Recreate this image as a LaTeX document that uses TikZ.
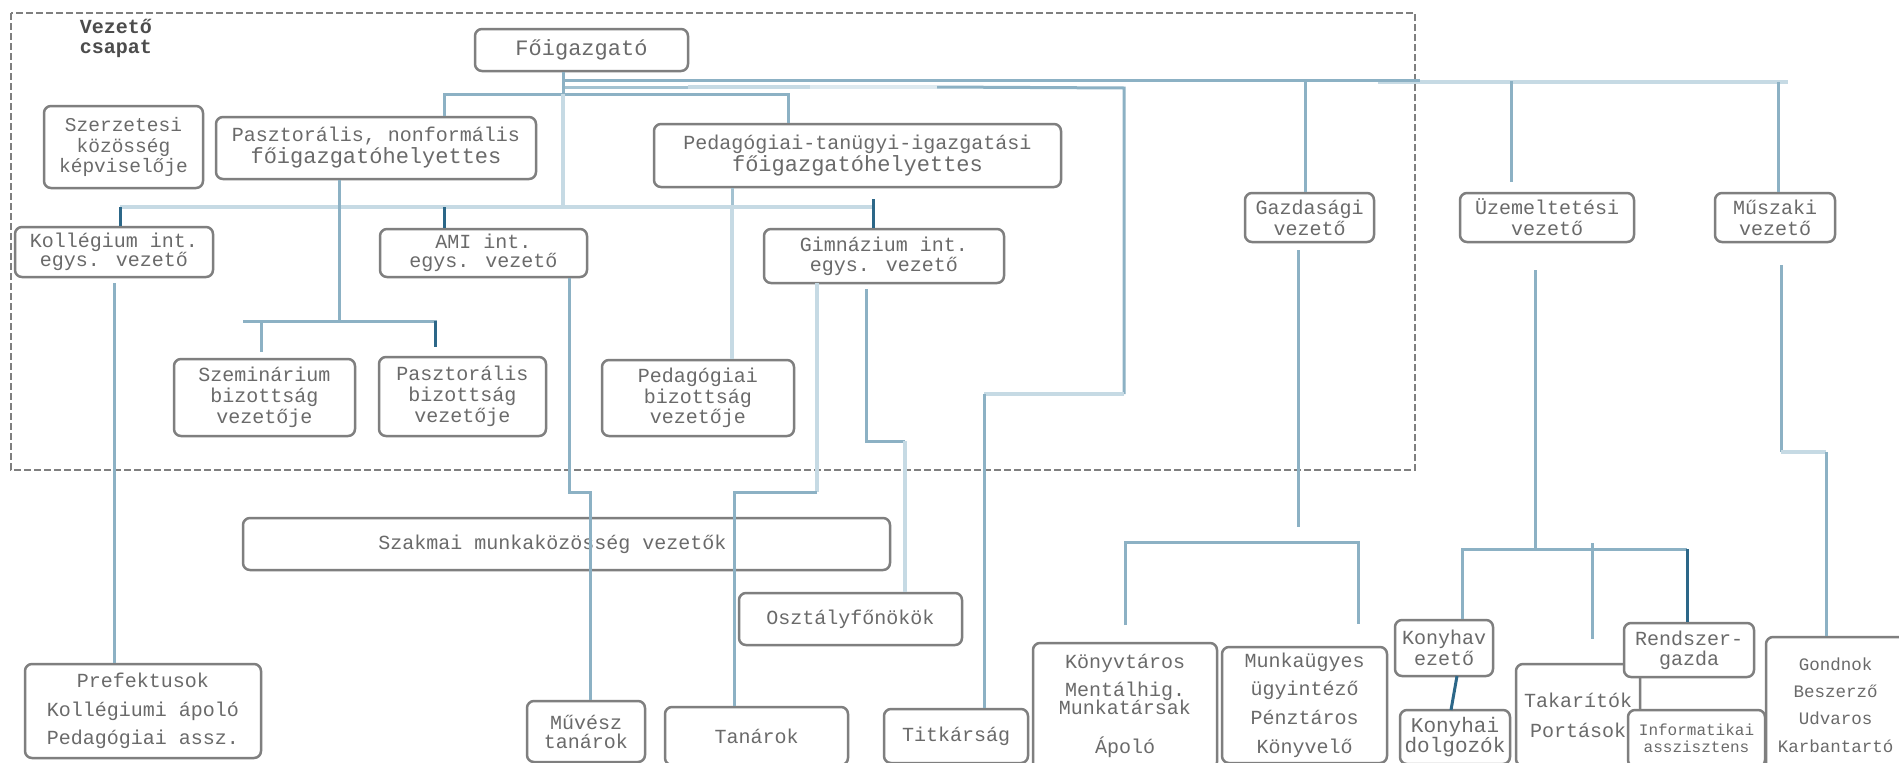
\documentclass[tikz,border=0pt]{standalone}
\usepackage{fontspec}
\setmainfont{Liberation Mono}
\definecolor{boxgray}{HTML}{7F7F7F}
\definecolor{txt}{HTML}{6A6A6A}
\definecolor{lmain}{HTML}{8CB1C4}
\definecolor{lmid}{HTML}{A3C2D1}
\definecolor{llight}{HTML}{C6DAE4}
\definecolor{lvlight}{HTML}{DDE9EF}
\definecolor{ldark}{HTML}{2C6788}
\newcommand\myfs[2]{\fontsize{#1}{#2}\selectfont\lineskiplimit=-20pt\relax}
\begin{document}
\begin{tikzpicture}[x=1pt,y=-1pt,
  box/.style={draw=boxgray, line width=2.5pt, rounded corners=7pt, fill=white, align=center, inner sep=0pt, text=txt, font=\myfs{20}{21}},
  ln/.style={draw=lmain, line width=3pt},
  lnm/.style={draw=lmid, line width=3pt},
  lnl/.style={draw=llight, line width=4.5pt},
  lnv/.style={draw=lvlight, line width=4pt},
  lnd/.style={draw=ldark, line width=3pt},
  grp/.style={draw=boxgray, line width=2pt, dash pattern=on 7pt off 3pt}]
\clip (0,0) rectangle (1899,763);
\fill[white] (0,0) rectangle (1899,763);
% group frame
\draw[grp] (11,13) rectangle (1415,470);
\node[text=black!70, font=\myfs{20}{20}\bfseries, align=center] (vc) at (116,38) {Vezető\\csapat};
% boxes
\node[box, minimum width=213pt, minimum height=42pt, font=\myfs{22}{22}] (fo) at (581.5,50) {Főigazgató};
\node[box, minimum width=159pt, minimum height=82pt, font=\myfs{19.5}{20.5}] (szerz) at (123.5,147) {Szerzetesi\\közösség\\képviselője};
\node[box, minimum width=320pt, minimum height=62pt, font=\myfs{20}{22}] (pasz) at (376,148) {Pasztorális, nonformális\\{\myfs{22}{22}főigazgatóhelyettes}};
\node[box, minimum width=407pt, minimum height=63pt, font=\myfs{20}{22}] (ped) at (857.5,155.5) {Pedagógiai-tanügyi-igazgatási\\{\myfs{22}{22}főigazgatóhelyettes}};
\node[box, minimum width=198pt, minimum height=50pt, font=\myfs{20}{19}] (koll) at (114,252) {Kollégium int.\\egys. vezető};
\node[box, minimum width=207pt, minimum height=48pt, font=\myfs{20}{19}] (ami) at (483.5,253) {AMI int.\\egys. vezető};
\node[box, minimum width=240pt, minimum height=54pt, font=\myfs{20}{20}] (gimn) at (884,256) {Gimnázium int.\\egys. vezető};
\node[box, minimum width=129pt, minimum height=49pt, font=\myfs{20}{21}] (gazd) at (1309.5,217.5) {Gazdasági\\vezető};
\node[box, minimum width=174pt, minimum height=49pt, font=\myfs{20}{21}] (uzem) at (1547,217.5) {Üzemeltetési\\vezető};
\node[box, minimum width=120pt, minimum height=49pt, font=\myfs{20}{21}] (musz) at (1775,217.5) {Műszaki\\vezető};
\node[box, minimum width=181pt, minimum height=77pt, font=\myfs{20}{21}] (szem) at (264.5,397.5) {Szeminárium\\bizottság\\vezetője};
\node[box, minimum width=167pt, minimum height=79pt, font=\myfs{20}{21}] (paszb) at (462.5,396.5) {Pasztorális\\bizottság\\vezetője};
\node[box, minimum width=192pt, minimum height=76pt, font=\myfs{20}{20.5}] (pedb) at (698,398) {Pedagógiai\\bizottság\\vezetője};
\node[box, minimum width=647pt, minimum height=52pt, fill=none] (szakm) at (566.5,544) {Szakmai munkaközösség vezetők\hspace*{28pt}};
\node[box, minimum width=223pt, minimum height=52pt] (oszt) at (850.5,619) {Osztályfőnökök};
\node[box, minimum width=236pt, minimum height=94pt, font=\myfs{20}{28.5}] (pref) at (143,711) {Prefektusok\\Kollégiumi ápoló\\Pedagógiai assz.};
\node[box, minimum width=118pt, minimum height=61pt, font=\myfs{20}{19}] (muv) at (586,731.5) {Művész\\tanárok};
\node[box, minimum width=183pt, minimum height=58pt] (tan) at (756.5,736) {Tanárok};
\node[box, minimum width=144pt, minimum height=54pt] (titk) at (956,736) {Titkárság};
\node[box, minimum width=184pt, minimum height=126pt, font=\myfs{20}{18}] (konyv) at (1125,706) {Könyvtáros\\[10pt]Mentálhig.\\Munkatársak\\[21pt]Ápoló};
\node[box, minimum width=165pt, minimum height=116pt, font=\myfs{20}{28.7}] (munk) at (1304.5,705) {Munkaügyes\\ügyintéző\\Pénztáros\\Könyvelő};
\node[box, minimum width=98pt, minimum height=56pt, font=\myfs{20}{21}] (konyhav) at (1444,648) {Konyhav\\ezető};
\node[box, minimum width=110pt, minimum height=54pt, font=\myfs{21}{20}] (konyhd) at (1455,737) {Konyhai\\dolgozók};
\node[box, minimum width=124pt, minimum height=102pt, font=\myfs{20}{30}] (tak) at (1578,715) {Takarítók\\Portások};
\node[box, minimum width=130pt, minimum height=54pt, font=\myfs{20}{20}] (rend) at (1689,650) {Rendszer-\\gazda};
\node[box, minimum width=137pt, minimum height=57pt, font=\myfs{16}{17}] (info) at (1696.5,738.5) {Informatikai\\asszisztens};
\node[box, minimum width=139pt, minimum height=136pt, font=\myfs{17.5}{27.3}] (gond) at (1835.5,705) {Gondnok\\Beszerző\\Udvaros\\Karbantartó};
% ---- connectors ----
% top buses
\coordinate (t2) at (1378,82); \coordinate (t3) at (1788,82);
\draw[lnl] (t2) -- (t3);
\coordinate (t0) at (563,80); \coordinate (t1) at (1420,80);
\draw[ln] (t0) -- (t1);
\coordinate (g0) at (1305,80);
\draw[ln] (g0) -- (g0 |- gazd.north);
\coordinate (u0) at (1511,81); \coordinate (u1) at (1511,182);
\draw[ln] (u0) -- (u1);
\coordinate (m0) at (1778,82);
\draw[ln] (m0) -- (m0 |- musz.north);
% second line to Titkarsag
\coordinate (s0) at (563,87); \coordinate (s1) at (688,87); \coordinate (s2) at (810,87);
\coordinate (s3) at (937,87); \coordinate (s4) at (1124,88); \coordinate (s5) at (1124,394);
\coordinate (s6) at (984,394);
\draw[lnm] (s0) -- (s1);
\draw[lnl] (s1) -- (s2);
\draw[lnv] (s2) -- (s3);
\draw[ln] (s3) -- (s4) -- (s5);
\draw[lnl] (s5) -- (s6);
\draw[ln] (s6) -- (s6 |- titk.north);
% deputies
\coordinate (p0) at (444,94); \coordinate (p1) at (788,94);
\draw[ln] (p0 |- pasz.north) -- (p0) -- (p1) -- (p1 |- ped.north);
% fo vertical
\coordinate (j0) at (563,94); \coordinate (j1) at (563,207);
\draw[ln] (fo.south -| j0) -- (j0);
\draw[lnl] (j0) -- (j1);
% ped -> pedb
\coordinate (q0) at (732,207);
\draw[lnm] (ped.south -| q0) -- (q0);
\draw[lnl] (q0) -- (q0 |- pedb.north);
% bar to unit heads
\coordinate (b0) at (120,207); \coordinate (b1) at (873,207);
\draw[lnl] (b0) -- (b1);
\coordinate (b2) at (444,207); \coordinate (b3) at (873,199);
\draw[lnd] (b0) -- (b0 |- koll.north);
\draw[lnd] (b2) -- (b2 |- ami.north);
\draw[lnd] (b3) -- (b3 |- gimn.north);
% pasz subtree
\coordinate (r0) at (339,321); \coordinate (r1) at (243,321); \coordinate (r2) at (437,321);
\coordinate (r3) at (261,321); \coordinate (r4) at (261,352); \coordinate (r5) at (435,321); \coordinate (r6) at (435,347);
\draw[ln] (pasz.south -| r0) -- (r0);
\draw[ln] (r1) -- (r2);
\draw[ln] (r3) -- (r4);
\draw[lnd] (r5) -- (r6);
% kollegium
\coordinate (k0) at (114,283);
\draw[ln] (k0) -- (k0 |- pref.north);
% AMI
\coordinate (a0) at (569,492); \coordinate (a1) at (590,492);
\draw[ln] (ami.south -| a0) -- (a0) -- (a1) -- (a1 |- muv.north);
% Gimnazium -> Tanarok
\coordinate (c0) at (817,283); \coordinate (c1) at (817,492); \coordinate (c2) at (734,492);
\draw[lnl] (c0) -- (c1);
\draw[ln] (c1) -- (c2) -- (c2 |- tan.north);
% Gimnazium -> Osztalyfonokok
\coordinate (d0) at (866,289); \coordinate (d1) at (866,441); \coordinate (d2) at (905,441);
\draw[ln] (d0) -- (d1) -- (d2);
\draw[lnl] (d2) -- (d2 |- oszt.north);
% Gazdasagi
\coordinate (e0) at (1298,250); \coordinate (e1) at (1298,527);
\draw[ln] (e0) -- (e1);
\coordinate (e2) at (1125,542); \coordinate (e3) at (1358,542);
\coordinate (e4) at (1125,625); \coordinate (e5) at (1358,624);
\draw[ln] (e4) -- (e2) -- (e3) -- (e5);
% Uzemeltetesi
\coordinate (f0) at (1535,270); \coordinate (f1) at (1535,549);
\draw[ln] (f0) -- (f1);
\coordinate (f2) at (1462,549); \coordinate (f3) at (1687,549);
\draw[ln] (f2 |- konyhav.north) -- (f2) -- (f3);
\coordinate (f4) at (1592,543); \coordinate (f5) at (1592,639);
\draw[ln] (f4) -- (f5);
\draw[lnd] (f3) -- (f3 |- rend.north);
\coordinate (h0) at (1457,676); \coordinate (h1) at (1451,710);
\draw[lnd] (h0) -- (h1);
% Muszaki
\coordinate (n0) at (1781,265); \coordinate (n1) at (1781,452); \coordinate (n2) at (1826,452);
\draw[ln] (n0) -- (n1);
\draw[lnl] (n1) -- (n2);
\draw[ln] (n2) -- (n2 |- gond.north);
\end{tikzpicture}
\end{document}
